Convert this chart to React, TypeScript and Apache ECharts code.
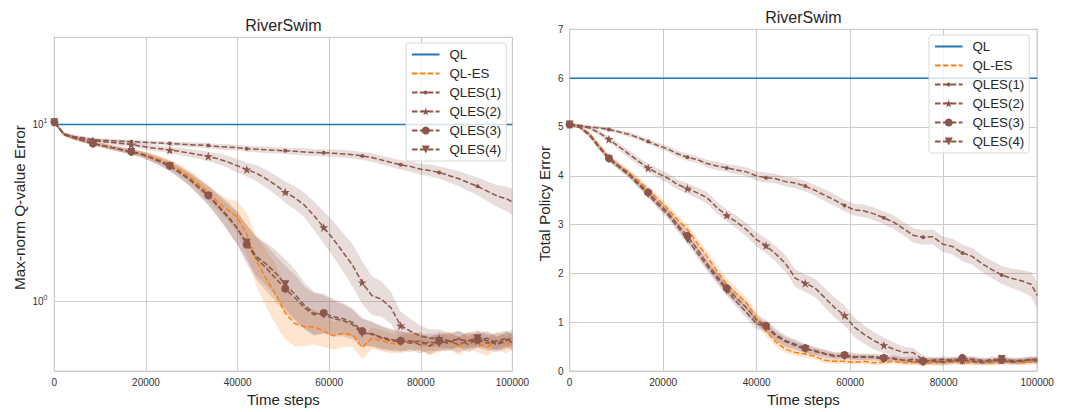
import React, { useEffect, useRef } from "react";
import * as echarts from "echarts";

// ---------- data ----------
const STEPS = [
  0, 2100, 4200, 6300, 8400, 10500, 12600, 14700, 16800, 18900, 21000, 23100,
  25200, 27300, 29400, 31500, 33600, 35700, 37800, 39900, 42000, 44100, 46200,
  48300, 50400, 52500, 54600, 56700, 58800, 60900, 63000, 65100, 67200, 69300,
  71400, 73500, 75600, 77700, 79800, 81900, 84000, 86100, 88200, 90300, 92400,
  94500, 96600, 98700, 100000,
];
const QL_STEPS = [0, 100000];

const X_TICKS = [0, 20000, 40000, 60000, 80000, 100000];

// Left panel: Max-norm Q-value Error (log scale)
const QL_Q = [10, 10];
const QLES_ES_Q = [10.3, 8.8, 8.4, 8.1, 7.8, 7.6, 7.4, 7.2, 7.0, 6.85, 6.6, 6.3, 5.95, 5.55, 5.1, 4.6, 4.1, 3.65, 3.3, 3.0, 2.4, 1.7, 1.35, 1.1, 0.86, 0.75, 0.72, 0.72, 0.68, 0.64, 0.66, 0.65, 0.55, 0.62, 0.6, 0.58, 0.57, 0.6, 0.59, 0.56, 0.58, 0.6, 0.56, 0.6, 0.58, 0.55, 0.6, 0.57, 0.6];
const QLES1_Q = [10.3, 8.8, 8.55, 8.4, 8.2, 8.15, 8.1, 8.05, 8.0, 7.95, 7.9, 7.85, 7.8, 7.75, 7.7, 7.65, 7.6, 7.5, 7.45, 7.4, 7.3, 7.25, 7.2, 7.15, 7.1, 7.05, 7.0, 6.95, 6.93, 6.88, 6.82, 6.75, 6.64, 6.5, 6.3, 6.1, 5.92, 5.8, 5.6, 5.5, 5.36, 5.15, 4.95, 4.7, 4.47, 4.2, 3.95, 3.8, 3.65];
const QLES2_Q = [10.3, 8.8, 8.5, 8.3, 8.1, 8.0, 7.9, 7.8, 7.7, 7.55, 7.4, 7.3, 7.17, 7.05, 6.9, 6.75, 6.61, 6.4, 6.15, 5.85, 5.57, 5.3, 4.95, 4.55, 4.15, 3.85, 3.5, 3.05, 2.62, 2.25, 1.9, 1.6, 1.28, 1.08, 1.03, 0.92, 0.73, 0.68, 0.64, 0.62, 0.62, 0.6, 0.61, 0.6, 0.6, 0.62, 0.58, 0.61, 0.6];
const QLES3_Q = [10.3, 8.8, 8.4, 8.1, 7.8, 7.6, 7.4, 7.2, 7.0, 6.8, 6.5, 6.2, 5.85, 5.4, 4.95, 4.45, 3.98, 3.5, 3.05, 2.6, 2.1, 1.75, 1.55, 1.35, 1.18, 1.05, 0.92, 0.84, 0.86, 0.82, 0.8, 0.76, 0.68, 0.65, 0.63, 0.61, 0.6, 0.58, 0.6, 0.56, 0.6, 0.58, 0.62, 0.57, 0.61, 0.58, 0.6, 0.62, 0.58];
const QLES4_Q = [10.3, 8.8, 8.4, 8.1, 7.8, 7.6, 7.4, 7.2, 7.0, 6.8, 6.5, 6.15, 5.8, 5.35, 4.9, 4.4, 3.95, 3.45, 3.0, 2.6, 2.15, 1.8, 1.63, 1.45, 1.25, 1.1, 0.95, 0.86, 0.84, 0.8, 0.78, 0.74, 0.66, 0.66, 0.62, 0.6, 0.59, 0.6, 0.57, 0.59, 0.58, 0.6, 0.57, 0.6, 0.62, 0.6, 0.57, 0.6, 0.63];
// band half-widths in decades (log10 units)
const BAND_ES_Q = [0.01, 0.01, 0.01, 0.01, 0.01, 0.012, 0.013, 0.014, 0.015, 0.017, 0.02, 0.023, 0.026, 0.03, 0.034, 0.038, 0.042, 0.05, 0.06, 0.09, 0.12, 0.14, 0.16, 0.17, 0.15, 0.13, 0.11, 0.1, 0.09, 0.08, 0.075, 0.07, 0.065, 0.06, 0.06, 0.055, 0.05, 0.05, 0.05, 0.05, 0.05, 0.05, 0.05, 0.05, 0.05, 0.05, 0.05, 0.05, 0.05];
const BAND1_Q = [0.01, 0.01, 0.01, 0.01, 0.01, 0.01, 0.01, 0.01, 0.01, 0.01, 0.01, 0.01, 0.012, 0.012, 0.013, 0.014, 0.015, 0.015, 0.016, 0.016, 0.017, 0.017, 0.018, 0.018, 0.018, 0.019, 0.02, 0.02, 0.02, 0.021, 0.022, 0.022, 0.023, 0.024, 0.025, 0.026, 0.027, 0.029, 0.031, 0.033, 0.035, 0.038, 0.042, 0.046, 0.05, 0.055, 0.062, 0.068, 0.075];
const BAND2_Q = [0.01, 0.01, 0.01, 0.01, 0.01, 0.012, 0.012, 0.013, 0.014, 0.015, 0.016, 0.017, 0.018, 0.02, 0.022, 0.024, 0.026, 0.03, 0.034, 0.038, 0.04, 0.045, 0.05, 0.055, 0.06, 0.065, 0.07, 0.08, 0.09, 0.1, 0.11, 0.12, 0.12, 0.11, 0.1, 0.09, 0.08, 0.07, 0.06, 0.05, 0.05, 0.045, 0.045, 0.04, 0.04, 0.04, 0.04, 0.045, 0.04];
const BAND3_Q = [0.01, 0.01, 0.01, 0.01, 0.01, 0.012, 0.013, 0.014, 0.015, 0.017, 0.02, 0.024, 0.028, 0.033, 0.038, 0.045, 0.055, 0.065, 0.08, 0.095, 0.11, 0.12, 0.13, 0.13, 0.13, 0.13, 0.12, 0.12, 0.11, 0.1, 0.09, 0.08, 0.075, 0.07, 0.065, 0.06, 0.055, 0.05, 0.05, 0.05, 0.05, 0.045, 0.045, 0.045, 0.045, 0.045, 0.045, 0.045, 0.045];
const BAND4_Q = [0.01, 0.01, 0.01, 0.01, 0.01, 0.012, 0.013, 0.014, 0.015, 0.017, 0.02, 0.023, 0.027, 0.032, 0.037, 0.043, 0.05, 0.06, 0.075, 0.09, 0.1, 0.11, 0.12, 0.13, 0.14, 0.14, 0.13, 0.12, 0.11, 0.1, 0.09, 0.085, 0.08, 0.07, 0.065, 0.06, 0.055, 0.05, 0.05, 0.05, 0.045, 0.045, 0.045, 0.045, 0.045, 0.045, 0.045, 0.045, 0.045];

// Right panel: Total Policy Error (linear)
const QL_P = [6, 6];
const QLES_ES_P = [5.05, 5.0, 4.87, 4.62, 4.38, 4.22, 4.07, 3.9, 3.72, 3.52, 3.32, 3.1, 2.9, 2.62, 2.35, 2.05, 1.78, 1.58, 1.4, 1.1, 0.82, 0.6, 0.45, 0.38, 0.35, 0.3, 0.22, 0.2, 0.2, 0.18, 0.2, 0.17, 0.18, 0.2, 0.17, 0.18, 0.15, 0.18, 0.17, 0.2, 0.18, 0.17, 0.19, 0.16, 0.18, 0.2, 0.17, 0.18, 0.2];
const QLES1_P = [5.05, 5.03, 5.0, 4.98, 4.95, 4.9, 4.85, 4.78, 4.7, 4.62, 4.55, 4.45, 4.38, 4.33, 4.25, 4.2, 4.16, 4.12, 4.08, 4.0, 3.96, 3.94, 3.88, 3.85, 3.79, 3.7, 3.6, 3.5, 3.39, 3.3, 3.28, 3.22, 3.14, 3.05, 2.92, 2.78, 2.74, 2.75, 2.6, 2.55, 2.42, 2.35, 2.2, 2.08, 1.97, 1.9, 1.85, 1.78, 1.55];
const QLES2_P = [5.05, 5.03, 4.98, 4.88, 4.75, 4.6, 4.45, 4.3, 4.16, 4.05, 3.95, 3.82, 3.74, 3.65, 3.55, 3.35, 3.19, 3.05, 2.9, 2.7, 2.57, 2.4, 2.2, 1.9, 1.8, 1.7, 1.5, 1.3, 1.14, 0.9, 0.75, 0.62, 0.53, 0.45, 0.38, 0.38, 0.23, 0.2, 0.18, 0.2, 0.22, 0.2, 0.17, 0.2, 0.22, 0.18, 0.2, 0.23, 0.2];
const QLES3_P = [5.05, 5.0, 4.85, 4.6, 4.36, 4.2, 4.05, 3.85, 3.66, 3.45, 3.25, 3.0, 2.77, 2.5, 2.2, 1.95, 1.7, 1.5, 1.3, 1.05, 0.93, 0.75, 0.62, 0.55, 0.47, 0.4, 0.35, 0.3, 0.33, 0.3, 0.28, 0.3, 0.27, 0.25, 0.22, 0.25, 0.2, 0.22, 0.25, 0.22, 0.27, 0.23, 0.2, 0.24, 0.23, 0.2, 0.22, 0.24, 0.22];
const QLES4_P = [5.05, 5.0, 4.83, 4.58, 4.34, 4.18, 4.02, 3.82, 3.62, 3.4, 3.2, 2.95, 2.7, 2.42, 2.15, 1.9, 1.65, 1.42, 1.2, 0.98, 0.9, 0.72, 0.6, 0.52, 0.45, 0.42, 0.36, 0.32, 0.3, 0.28, 0.3, 0.27, 0.25, 0.27, 0.22, 0.2, 0.18, 0.22, 0.2, 0.23, 0.2, 0.25, 0.22, 0.2, 0.25, 0.22, 0.2, 0.23, 0.25];
// band half-widths (absolute)
const BAND_ES_P = [0.02, 0.03, 0.04, 0.05, 0.05, 0.06, 0.06, 0.07, 0.07, 0.08, 0.08, 0.09, 0.1, 0.1, 0.11, 0.11, 0.12, 0.12, 0.11, 0.11, 0.1, 0.09, 0.08, 0.07, 0.07, 0.06, 0.06, 0.05, 0.05, 0.05, 0.05, 0.05, 0.05, 0.05, 0.05, 0.05, 0.05, 0.05, 0.05, 0.05, 0.05, 0.05, 0.05, 0.05, 0.05, 0.05, 0.05, 0.05, 0.05];
const BAND1_P = [0.03, 0.03, 0.03, 0.04, 0.04, 0.04, 0.05, 0.05, 0.05, 0.06, 0.06, 0.07, 0.07, 0.07, 0.08, 0.08, 0.08, 0.09, 0.09, 0.1, 0.1, 0.1, 0.1, 0.11, 0.11, 0.11, 0.12, 0.12, 0.12, 0.12, 0.13, 0.13, 0.13, 0.14, 0.14, 0.15, 0.15, 0.15, 0.16, 0.16, 0.17, 0.17, 0.17, 0.18, 0.18, 0.2, 0.22, 0.25, 0.28];
const BAND2_P = [0.02, 0.03, 0.04, 0.05, 0.06, 0.07, 0.08, 0.08, 0.09, 0.1, 0.1, 0.1, 0.11, 0.11, 0.12, 0.12, 0.12, 0.13, 0.14, 0.15, 0.15, 0.16, 0.17, 0.18, 0.18, 0.19, 0.2, 0.2, 0.2, 0.2, 0.19, 0.18, 0.16, 0.14, 0.12, 0.1, 0.09, 0.08, 0.07, 0.07, 0.06, 0.06, 0.06, 0.06, 0.06, 0.06, 0.06, 0.06, 0.06];
const BAND3_P = [0.02, 0.03, 0.04, 0.05, 0.06, 0.06, 0.07, 0.07, 0.08, 0.08, 0.09, 0.09, 0.1, 0.1, 0.11, 0.11, 0.12, 0.12, 0.12, 0.12, 0.12, 0.12, 0.11, 0.1, 0.09, 0.08, 0.08, 0.07, 0.07, 0.07, 0.06, 0.06, 0.06, 0.06, 0.06, 0.06, 0.06, 0.06, 0.06, 0.06, 0.06, 0.06, 0.06, 0.06, 0.06, 0.06, 0.06, 0.06, 0.07];
const BAND4_P = [0.02, 0.03, 0.04, 0.05, 0.05, 0.06, 0.06, 0.07, 0.07, 0.08, 0.08, 0.09, 0.09, 0.1, 0.1, 0.11, 0.11, 0.11, 0.12, 0.12, 0.11, 0.1, 0.1, 0.09, 0.08, 0.08, 0.07, 0.07, 0.06, 0.06, 0.06, 0.06, 0.06, 0.06, 0.06, 0.06, 0.06, 0.06, 0.06, 0.06, 0.06, 0.06, 0.06, 0.06, 0.06, 0.06, 0.06, 0.06, 0.06];

// ---------- styling ----------
const BLUE = "#1f77b4";
const ORANGE = "#ff7f0e";
const BROWN = "#8c564b";
const BAND_ORANGE = "rgba(255,127,14,0.2)";
const BAND_BROWN = "rgba(140,86,75,0.2)";
const GRID_COLOR = "#cccccc";
const TEXT_DARK = "#262626";
const FONT = "'Liberation Sans', Arial, Helvetica, sans-serif";
const MARK_EVERY = 4;
const STAR =
  "path://M50,0 L61.2,34.5 L97.6,34.5 L68.2,55.9 L79.4,90.5 L50,69.1 L20.6,90.5 L31.8,55.9 L2.4,34.5 L38.8,34.5 Z";
// small dot: circle occupying half of its (padded) box
const DOT =
  "path://M0,0 M100,100 M75,50 A25,25 0 1 1 25,50 A25,25 0 1 1 75,50 Z";
const DASH = [5.5, 2.4];

const GRIDS = [
  { left: 54.4, top: 37.3, width: 458, height: 340.4 },
  { left: 569.6, top: 29.3, width: 467.6, height: 349 },
];

function lineSeries(
  name: string,
  xs: number[],
  ys: number[],
  g: number,
  color: string,
  dashed: boolean,
  symbol?: string,
  size?: number,
  rotate?: number
) {
  return {
    type: "line",
    name,
    xAxisIndex: g,
    yAxisIndex: g,
    data: xs.map((x, i) =>
      symbol && i % MARK_EVERY === 0 && i < xs.length - 1
        ? [x, ys[i]]
        : { value: [x, ys[i]], symbol: "none" }
    ),
    symbol: symbol || "none",
    symbolSize: size || 6,
    symbolRotate: rotate || 0,
    showSymbol: !!symbol,
    lineStyle: { color, width: 1.5, type: dashed ? DASH : "solid" },
    itemStyle: { color },
    emphasis: { disabled: true },
    silent: true,
    z: 3,
  };
}

function bandSeries(
  ys: number[],
  half: number[],
  g: number,
  color: string,
  log: boolean
) {
  const lo = ys.map((v, i) => (log ? v / Math.pow(10, half[i]) : v - half[i]));
  const hi = ys.map((v, i) => (log ? v * Math.pow(10, half[i]) : v + half[i]));
  return {
    type: "custom",
    xAxisIndex: g,
    yAxisIndex: g,
    silent: true,
    clip: true,
    z: 2,
    data: STEPS.map((x, i) => [x, lo[i], hi[i]]),
    encode: { x: 0, y: [1, 2] },
    renderItem: (params: any, api: any) => {
      if (params.dataIndex !== 0) return null;
      const pts: number[][] = [];
      for (let i = 0; i < STEPS.length; i++) pts.push(api.coord([STEPS[i], hi[i]]));
      for (let i = STEPS.length - 1; i >= 0; i--) pts.push(api.coord([STEPS[i], lo[i]]));
      return { type: "polygon", shape: { points: pts }, style: { fill: color } };
    },
  };
}

function panelSeries(
  g: number,
  ql: number[],
  es: number[],
  s1: number[],
  s2: number[],
  s3: number[],
  s4: number[],
  bes: number[],
  b1: number[],
  b2: number[],
  b3: number[],
  b4: number[],
  log: boolean
) {
  return [
    bandSeries(es, bes, g, BAND_ORANGE, log),
    bandSeries(s1, b1, g, BAND_BROWN, log),
    bandSeries(s2, b2, g, BAND_BROWN, log),
    bandSeries(s3, b3, g, BAND_BROWN, log),
    bandSeries(s4, b4, g, BAND_BROWN, log),
    lineSeries("QL", QL_STEPS, ql, g, BLUE, false),
    lineSeries("QL-ES", STEPS, es, g, ORANGE, true),
    lineSeries("QLES(1)", STEPS, s1, g, BROWN, true, DOT, 8),
    lineSeries("QLES(2)", STEPS, s2, g, BROWN, true, STAR, 9),
    lineSeries("QLES(3)", STEPS, s3, g, BROWN, true, "circle", 8),
    lineSeries("QLES(4)", STEPS, s4, g, BROWN, true, "triangle", 8, 180),
  ];
}

function xAxis(g: number) {
  return {
    type: "value",
    gridIndex: g,
    min: 0,
    max: 100000,
    interval: 20000,
    name: "Time steps",
    nameLocation: "middle",
    nameGap: 19,
    nameTextStyle: { fontSize: 15, color: TEXT_DARK, fontFamily: FONT },
    axisLine: { show: false },
    axisTick: { show: false },
    axisLabel: {
      fontSize: 10,
      color: "#333333",
      margin: 6,
      fontFamily: FONT,
      customValues: X_TICKS,
      formatter: (v: number) => String(v),
    },
    splitLine: { show: true, lineStyle: { color: GRID_COLOR, width: 1 } },
  };
}

const LEGEND_NAMES = ["QL", "QL-ES", "QLES(1)", "QLES(2)", "QLES(3)", "QLES(4)"];

function legend(left: number, top: number) {
  return {
    orient: "vertical",
    left,
    top,
    padding: 5,
    itemGap: 6,
    itemWidth: 27.5,
    itemHeight: 10,
    backgroundColor: "rgba(255,255,255,0.8)",
    borderColor: "#d9d9d9",
    borderWidth: 1,
    borderRadius: 3,
    selectedMode: false,
    textStyle: {
      fontSize: 13.3,
      color: TEXT_DARK,
      fontFamily: FONT,
      padding: [0, 0, 0, 5],
    },
    data: LEGEND_NAMES.map((n) =>
      n === "QL" || n === "QL-ES" ? { name: n, itemStyle: { opacity: 0 } } : { name: n }
    ),
  };
}

function titleText(x: number, y: number, text: string) {
  return {
    type: "text",
    x,
    y,
    silent: true,
    style: {
      text,
      fontSize: 16,
      fill: TEXT_DARK,
      fontFamily: FONT,
      textAlign: "center",
      textVerticalAlign: "middle",
    },
  };
}

function yNameText(x: number, y: number, text: string) {
  return {
    type: "text",
    x,
    y,
    rotation: Math.PI / 2,
    silent: true,
    style: {
      text,
      fontSize: 15.3,
      fill: TEXT_DARK,
      fontFamily: FONT,
      textAlign: "center",
      textVerticalAlign: "middle",
    },
  };
}

export default function App() {
  const ref = useRef<HTMLDivElement>(null);
  useEffect(() => {
    if (!ref.current) return;
    const chart = echarts.init(ref.current, null, { renderer: "svg" });
    const option: any = {
      animation: false,
      backgroundColor: "#ffffff",
      textStyle: { fontFamily: FONT },
      grid: GRIDS.map((g) => ({
        ...g,
        show: true,
        borderColor: GRID_COLOR,
        borderWidth: 1.25,
        backgroundColor: "#ffffff",
      })),
      graphic: [
        titleText(GRIDS[0].left + GRIDS[0].width / 2, 25.7, "RiverSwim"),
        titleText(GRIDS[1].left + GRIDS[1].width / 2, 17.7, "RiverSwim"),
        yNameText(19, GRIDS[0].top + GRIDS[0].height / 2, "Max-norm Q-value Error"),
        yNameText(544, GRIDS[1].top + GRIDS[1].height / 2, "Total Policy Error"),
      ],
      legend: [legend(406, 43), legend(929, 35)],
      xAxis: [xAxis(0), xAxis(1)],
      yAxis: [
        {
          type: "log",
          logBase: 10,
          gridIndex: 0,
          min: 0.404,
          max: 31.1,
          axisLine: { show: false },
          axisTick: { show: false },
          axisLabel: {
            showMinLabel: false,
            showMaxLabel: false,
            margin: 7,
            formatter: (v: number) => {
              const e = Math.round(Math.log10(v));
              return "{b|10}{s|" + e + "}";
            },
            rich: {
              b: { fontSize: 10, color: "#333333", fontFamily: FONT },
              s: { fontSize: 7, color: "#333333", fontFamily: FONT, padding: [0, 0, 7, 0] },
            },
          },
          splitLine: { show: true, lineStyle: { color: GRID_COLOR, width: 1 } },
        },
        {
          type: "value",
          gridIndex: 1,
          min: 0,
          max: 7,
          interval: 1,
          axisLine: { show: false },
          axisTick: { show: false },
          axisLabel: { fontSize: 10, color: "#333333", margin: 6, fontFamily: FONT },
          splitLine: { show: true, lineStyle: { color: GRID_COLOR, width: 1 } },
        },
      ],
      series: [
        ...panelSeries(0, QL_Q, QLES_ES_Q, QLES1_Q, QLES2_Q, QLES3_Q, QLES4_Q, BAND_ES_Q, BAND1_Q, BAND2_Q, BAND3_Q, BAND4_Q, true),
        ...panelSeries(1, QL_P, QLES_ES_P, QLES1_P, QLES2_P, QLES3_P, QLES4_P, BAND_ES_P, BAND1_P, BAND2_P, BAND3_P, BAND4_P, false),
      ],
    };
    chart.setOption(option);
    return () => chart.dispose();
  }, []);
  return (
    <div
      ref={ref}
      style={{ position: "absolute", left: 0, top: 0, width: 1070, height: 412 }}
    />
  );
}
